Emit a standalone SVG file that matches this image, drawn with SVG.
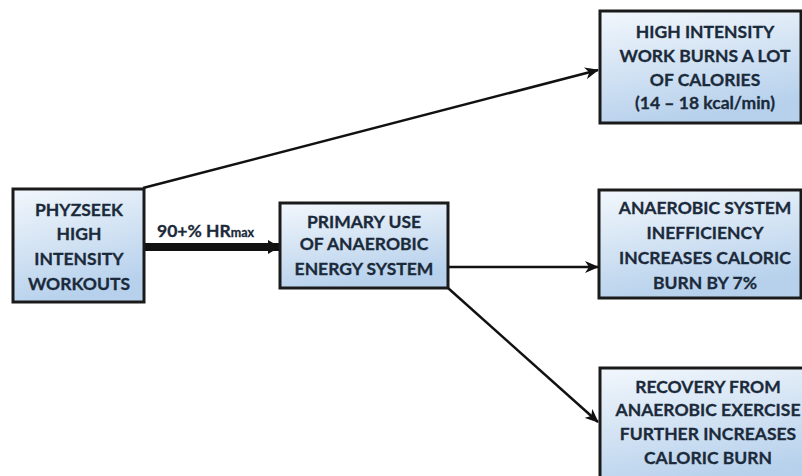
<svg xmlns="http://www.w3.org/2000/svg" width="802" height="476" viewBox="0 0 802 476">
<defs>
<linearGradient id="g" x1="0" y1="0" x2="0.3" y2="1">
<stop offset="0" stop-color="#f2f7fc"/>
<stop offset="1" stop-color="#b7d1ec"/>
</linearGradient>
<marker id="ah" markerUnits="userSpaceOnUse" markerWidth="14" markerHeight="12" refX="13" refY="6" orient="auto">
<path d="M0,0 L14,6 L0,12 L4,6 z" fill="#111"/>
</marker>
<marker id="ahb" markerUnits="userSpaceOnUse" markerWidth="12" markerHeight="14" refX="12" refY="7" orient="auto">
<path d="M0,0 L12,7 L0,14 z" fill="#111"/>
</marker>
</defs>
<style>
.box{fill:url(#g);stroke:#1a1a1a;stroke-width:3}
.t{font-family:Lato,"Open Sans",sans-serif;font-weight:bold;font-size:17.5px;fill:#1b2a3a;stroke:#1b2a3a;stroke-width:0.3;text-anchor:middle}
.c{stroke:#111;stroke-width:2.5;fill:none}
</style>
<g id="connectors">
<line class="c" x1="143" y1="188" x2="598" y2="70" marker-end="url(#ah)"/>
<line x1="144" y1="247" x2="280" y2="247" stroke="#111" stroke-width="8" marker-end="url(#ahb)"/>
<line class="c" x1="448" y1="267" x2="598" y2="267" marker-end="url(#ah)"/>
<line class="c" x1="448" y1="288" x2="598" y2="422" marker-end="url(#ah)"/>
<text x="157" y="237" font-family="Lato,'Open Sans',sans-serif" font-weight="bold" font-size="17.5" fill="#1b2a3a" stroke="#1b2a3a" stroke-width="0.3">90+% HR<tspan font-size="12.5">max</tspan></text>
</g>
<g id="n1">
<rect class="box" x="13" y="189" width="131" height="113"/>
<text class="t" x="79" y="216">PHYZSEEK</text>
<text class="t" x="79" y="240">HIGH</text>
<text class="t" x="79" y="265">INTENSITY</text>
<text class="t" x="79" y="290">WORKOUTS</text>
</g>
<g id="n2">
<rect class="box" x="280" y="203" width="168" height="85"/>
<text class="t" x="364" y="228">PRIMARY USE</text>
<text class="t" x="364" y="250">OF ANAEROBIC</text>
<text class="t" x="364" y="275">ENERGY SYSTEM</text>
</g>
<g id="n3">
<rect class="box" x="600" y="11" width="201" height="112"/>
<text class="t" x="705" y="38">HIGH INTENSITY</text>
<text class="t" x="705" y="62">WORK BURNS A LOT</text>
<text class="t" x="705" y="86">OF CALORIES</text>
<text class="t" x="705" y="109">(14 – 18 kcal/min)</text>
</g>
<g id="n4">
<rect class="box" x="599" y="190" width="202" height="108"/>
<text class="t" x="705" y="214">ANAEROBIC SYSTEM</text>
<text class="t" x="705" y="239">INEFFICIENCY</text>
<text class="t" x="705" y="264">INCREASES CALORIC</text>
<text class="t" x="705" y="289">BURN BY 7%</text>
</g>
<g id="n5">
<rect class="box" x="600" y="368" width="210" height="120"/>
<text class="t" x="708" y="393">RECOVERY FROM</text>
<text class="t" x="708" y="416">ANAEROBIC EXERCISE</text>
<text class="t" x="708" y="440">FURTHER INCREASES</text>
<text class="t" x="708" y="464">CALORIC BURN</text>
</g>
</svg>
